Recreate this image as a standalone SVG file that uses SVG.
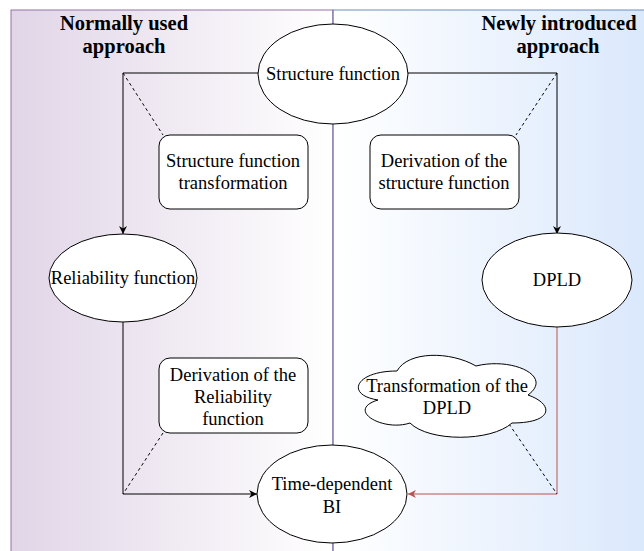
<svg xmlns="http://www.w3.org/2000/svg" width="644" height="551" viewBox="0 0 644 551">
<defs>
<linearGradient id="gL" x1="0" y1="0" x2="1" y2="0"><stop offset="0" stop-color="#e1d5e7"/><stop offset="1" stop-color="#ffffff"/></linearGradient>
<linearGradient id="gR" x1="0" y1="0" x2="1" y2="0"><stop offset="0" stop-color="#ffffff"/><stop offset="1" stop-color="#dae8fc"/></linearGradient>
<marker id="aK" viewBox="0 0 10 10" refX="10" refY="5" markerWidth="8" markerHeight="8" markerUnits="userSpaceOnUse" orient="auto"><path d="M0,0 L10,5 L0,10 L3,5 Z" fill="#000"/></marker>
<marker id="aR" viewBox="0 0 10 10" refX="10" refY="5" markerWidth="8" markerHeight="8" markerUnits="userSpaceOnUse" orient="auto"><path d="M0,0 L10,5 L0,10 L3,5 Z" fill="#b85450"/></marker>
</defs>
<style>
text{font-family:'Liberation Serif','Times New Roman',serif;font-size:18.5px;fill:#000;text-anchor:middle}
.t{font-weight:bold;font-size:20.5px}
.n{fill:#fff;stroke:#000;stroke-width:1}
.c{fill:none;stroke:#000;stroke-width:1}
.d{fill:none;stroke:#000;stroke-width:1;stroke-dasharray:3,3}
.r{fill:none;stroke:#b85450;stroke-width:1}
</style>
<g id="panel-left"><rect x="11" y="10" width="322" height="548" fill="url(#gL)" stroke="#9673a6"/></g>
<g id="panel-right"><rect x="333" y="10" width="318" height="548" fill="url(#gR)" stroke="#6c8ebf"/><line x1="333" y1="10" x2="333" y2="551" stroke="#9673a6"/></g>
<g id="title-left"><text class="t" x="124" y="30">Normally used</text><text class="t" x="124" y="53">approach</text></g>
<g id="title-right"><text class="t" x="559" y="30">Newly introduced</text><text class="t" x="558" y="53">approach</text></g>
<g id="connectors">
<path class="c" d="M259,73 H123 V234" marker-end="url(#aK)"/>
<path class="c" d="M408,73 H557 V234" marker-end="url(#aK)"/>
<path class="c" d="M123,322 V494 H257" marker-end="url(#aK)"/>
<path class="r" d="M557,327 V494 H408" marker-end="url(#aR)"/>
<path class="d" d="M123,73 L163,135"/>
<path class="d" d="M557,73 L516,135"/>
<path class="d" d="M163,433 L123,494"/>
<path class="d" d="M509,424 L557,494"/>
</g>
<g id="n-structure"><ellipse class="n" cx="333" cy="74" rx="75" ry="50"/><text x="333" y="80">Structure function</text></g>
<g id="n-reliability"><ellipse class="n" cx="123" cy="278" rx="74" ry="44"/><text x="123" y="284">Reliability function</text></g>
<g id="n-dpld"><ellipse class="n" cx="557" cy="280" rx="75" ry="47"/><text x="557" y="286">DPLD</text></g>
<g id="n-timebi"><ellipse class="n" cx="332" cy="494" rx="75" ry="49"/><text x="332" y="490">Time-dependent</text><text x="332" y="513">BI</text></g>
<g id="n-sft"><rect class="n" x="159" y="135" width="149" height="74" rx="11"/><text x="233" y="167">Structure function</text><text x="233" y="189">transformation</text></g>
<g id="n-dsf"><rect class="n" x="370" y="135" width="149" height="74" rx="11"/><text x="444" y="167">Derivation of the</text><text x="444" y="189">structure function</text></g>
<g id="n-drf"><rect class="n" x="159" y="358" width="149" height="75" rx="11"/><text x="233" y="381">Derivation of the</text><text x="233" y="403">Reliability</text><text x="233" y="425">function</text></g>
<g id="n-tdpld"><path class="n" d="M397,371 C355,371 345,395 378,400 C345,410 383,432 410,423 C429,442 491,442 512,423 C554,423 554,404 528,395 C554,376 512,357 476,366 C450,351 408,351 397,371 Z"/><text x="447" y="392">Transformation of the</text><text x="447" y="414">DPLD</text></g>
</svg>
